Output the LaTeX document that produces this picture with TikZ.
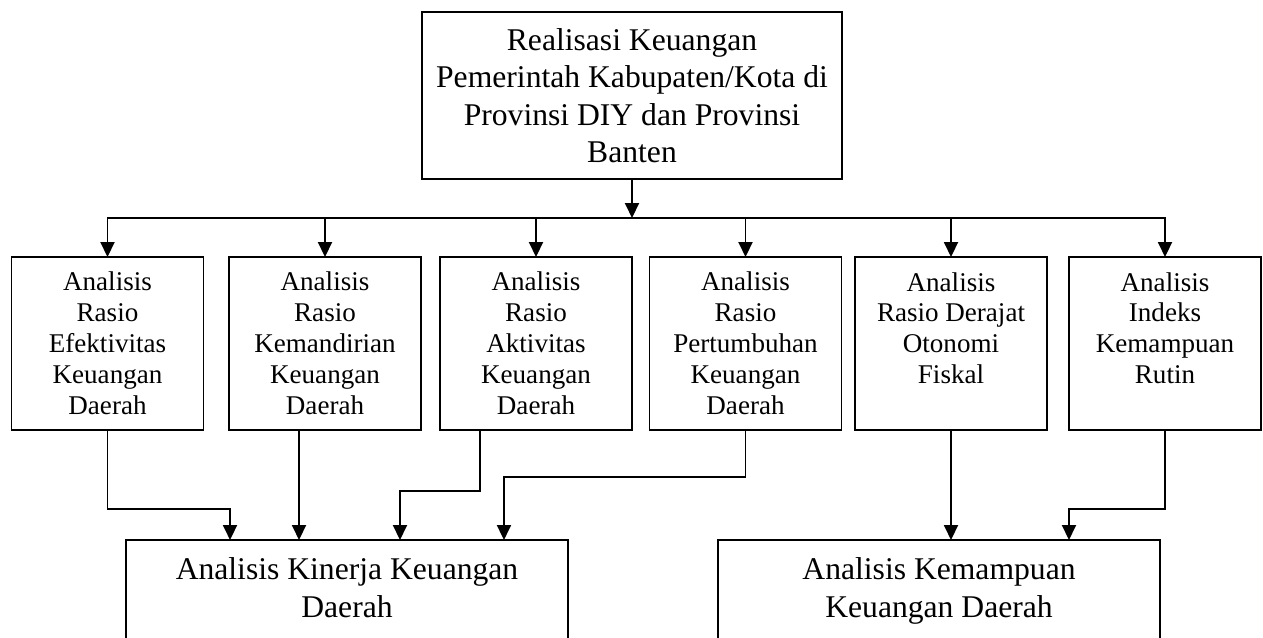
\documentclass[tikz,border=0pt]{standalone}
\usepackage{fontspec}
\setmainfont{Liberation Serif}
\usetikzlibrary{arrows.meta,positioning}

\begin{document}
\begin{tikzpicture}[x=0.02cm, y=-0.02cm, line width=1.1pt,
  >={Triangle[width=0.28cm,length=0.3cm]},
  kotak/.style={draw, rectangle, align=center, inner sep=0pt, outer sep=0pt},
  analisis/.style={kotak, minimum width=3.84cm, minimum height=3.46cm,
    font=\fontsize{15.4}{17.6}\selectfont},
  hasil/.style={kotak, anchor=north, minimum width=8.84cm, inner ysep=0.36cm,
    font=\fontsize{18}{21.3}\selectfont}]
% page size, the bottom row runs off it
\clip (0,0) rectangle (1263,637);

\node[kotak, minimum width=8.4cm, minimum height=3.34cm, font=\fontsize{18}{21.3}\selectfont]
  (realisasi) at (632,95.5) {Realisasi Keuangan\\ Pemerintah Kabupaten/Kota di\\ Provinsi DIY dan Provinsi\\ Banten};

\node[analisis] (efektivitas) at (107.5,343.5) {Analisis\\ Rasio\\ Efektivitas\\ Keuangan\\ Daerah};
\node[analisis] (kemandirian) at (325,343.5) {Analisis\\ Rasio\\ Kemandirian\\ Keuangan\\ Daerah};
\node[analisis] (aktivitas) at (536,343.5) {Analisis\\ Rasio\\ Aktivitas\\ Keuangan\\ Daerah};
\node[analisis] (pertumbuhan) at (745.5,343.5) {Analisis\\ Rasio\\ Pertumbuhan\\ Keuangan\\ Daerah};
\node[analisis] (otonomi) at (951,343.5) {Analisis\\ Rasio Derajat\\ Otonomi\\ Fiskal\\ ~};
\node[analisis] (indeks) at (1165,343.5) {Analisis\\ Indeks\\ Kemampuan\\ Rutin\\ ~};

\node[hasil] (kinerja) at (347,540) {Analisis Kinerja Keuangan\\ Daerah\\ ~};
\node[hasil] (kemampuan) at (939,540) {Analisis Kemampuan\\ Keuangan Daerah\\ ~};

% from the top box to the six analyses
\coordinate (cabang) at (632,218);
\draw[->] (realisasi) -- (cabang);
\foreach \k in {efektivitas,kemandirian,aktivitas,pertumbuhan,otonomi,indeks}
  \draw[->] (cabang) -| (\k.north);

% into the two results
\draw[->] (efektivitas.south) -- ++(0,79) -| ([xshift=-2.34cm]kinerja.north);
\draw[->] ([xshift=-0.52cm]kemandirian.south) -- ([xshift=-0.96cm]kinerja.north);
\draw[->] ([xshift=-1.12cm]aktivitas.south) -- ++(0,61) -| ([xshift=1.06cm]kinerja.north);
\draw[->] (pertumbuhan.south) -- ++(0,47) -| ([xshift=3.14cm]kinerja.north);
\draw[->] (otonomi.south) -- (otonomi.south |- kemampuan.north);
\draw[->] (indeks.south) -- ++(0,79) -| ([xshift=2.6cm]kemampuan.north);
\end{tikzpicture}
\end{document}
